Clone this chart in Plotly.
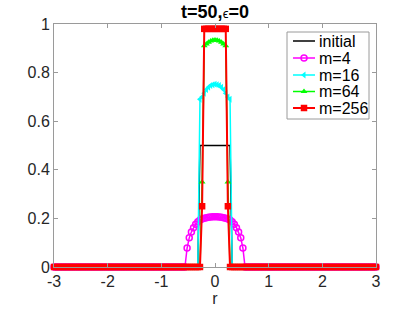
import numpy as np
import plotly.graph_objects as go

# spatial grid (151 evenly spaced samples on [-3, 3])
r = np.round(np.linspace(-3, 3, 151), 2).tolist()

pad = [0.0] * 60  # values outside the central region are all zero
# central region r = -0.60 ... 0.60 (31 samples)
initial_core = [0, 0, 0, 0, 0, 0, 0, 0, 0.5, 0.5, 0.5, 0.5, 0.5, 0.5, 0.5, 0.5,
                0.5, 0.5, 0.5, 0.5, 0.5, 0.5, 0.5, 0, 0, 0, 0, 0, 0, 0, 0]
m4_core = [0, 0, 0.078, 0.12, 0.144, 0.162, 0.176, 0.186, 0.193, 0.198, 0.201, 0.203, 0.205, 0.206, 0.207, 0.207,
           0.207, 0.206, 0.205, 0.203, 0.201, 0.198, 0.193, 0.186, 0.176, 0.162, 0.144, 0.12, 0.078, 0, 0]
m16_core = [0, 0, 0, 0, 0, 0, 0, 0, 0.69, 0.70, 0.715, 0.73, 0.74, 0.747, 0.75, 0.752,
            0.75, 0.747, 0.74, 0.73, 0.715, 0.70, 0.69, 0, 0, 0, 0, 0, 0, 0, 0]
m64_core = [0, 0, 0, 0, 0, 0, 0, 0, 0, 0.35, 0.91, 0.918, 0.925, 0.93, 0.933, 0.934,
            0.933, 0.93, 0.925, 0.918, 0.91, 0.35, 0, 0, 0, 0, 0, 0, 0, 0, 0]
m256_core = [0, 0, 0, 0, 0, 0, 0, 0, 0, 0.25, 0.98, 0.98, 0.98, 0.98, 0.98, 0.98,
             0.98, 0.98, 0.98, 0.98, 0.98, 0.25, 0, 0, 0, 0, 0, 0, 0, 0, 0]

initial = pad + initial_core + pad
m4 = pad + m4_core + pad
m16 = pad + m16_core + pad
m64 = pad + m64_core + pad
m256 = pad + m256_core + pad

names = ["initial", "m=4", "m=16", "m=64", "m=256"]
series = [initial, m4, m16, m64, m256]

x_ticks = [-3, -2, -1, 0, 1, 2, 3]
x_ticklabels = ["-3", "-2", "-1", "0", "1", "2", "3"]
y_ticks = [0, 0.2, 0.4, 0.6, 0.8, 1]
y_ticklabels = ["0", "0.2", "0.4", "0.6", "0.8", "1"]

# ---- styles ----
FONT = "Liberation Sans, Arial, Helvetica, sans-serif"
colors = ["#000000", "#ff00ff", "#00ffff", "#00ff00", "#ff0000"]
widths = [1.5, 1.5, 1.5, 1.5, 2]
markers = [None,
           dict(symbol="circle-open", size=6, line=dict(width=1.5)),
           dict(symbol="triangle-left", size=6),
           dict(symbol="triangle-up", size=6),
           dict(symbol="square", size=6.5)]

W, H = 415, 312
L, R, T, B = 54, 376, 24, 267  # plot-area pixel edges

fig = go.Figure()
for name, ys, c, w, mk in zip(names, series, colors, widths, markers):
    kw = dict(x=r, y=ys, name=name, line=dict(color=c, width=w), cliponaxis=False, showlegend=False)
    if mk is None:
        fig.add_trace(go.Scatter(mode="lines", **kw))
    else:
        fig.add_trace(go.Scatter(mode="lines+markers", marker=dict(color=c, **mk), **kw))

# ---- legend drawn on an overlay pixel-coordinate axis pair ----
LB = dict(x0=287, x1=369, y0=32, y1=119)
row_y = [41, 58, 75, 91.5, 108]
line_x0, line_x1, text_x = 293, 315, 317
fig.add_trace(go.Scatter(xaxis="x2", yaxis="y2", mode="lines",
                         x=[LB["x0"], LB["x1"], LB["x1"], LB["x0"], LB["x0"]],
                         y=[LB["y0"], LB["y0"], LB["y1"], LB["y1"], LB["y0"]],
                         fill="toself", fillcolor="white",
                         line=dict(color="#9a9a9a", width=1), showlegend=False, hoverinfo="skip"))
for name, c, w, mk, yy in zip(names, colors, widths, markers, row_y):
    fig.add_trace(go.Scatter(xaxis="x2", yaxis="y2", mode="lines", x=[line_x0, line_x1], y=[yy, yy],
                             line=dict(color=c, width=w), showlegend=False, hoverinfo="skip"))
    if mk is not None:
        fig.add_trace(go.Scatter(xaxis="x2", yaxis="y2", mode="markers", x=[(line_x0 + line_x1) / 2], y=[yy],
                                 marker=dict(color=c, **mk), showlegend=False, hoverinfo="skip"))
    fig.add_annotation(xref="x2", yref="y2", x=text_x, y=yy, text=name, showarrow=False,
                       xanchor="left", yanchor="middle", font=dict(family=FONT, size=16, color="black"))

axis_common = dict(showgrid=False, zeroline=False, showline=True, linecolor="#9a9a9a",
                   linewidth=1, mirror="allticks", ticks="inside", ticklen=4,
                   tickcolor="#9a9a9a", automargin=False,
                   tickfont=dict(family=FONT, size=16, color="#262626"))

fig.update_layout(
    width=W, height=H,
    margin=dict(l=L, r=W - R, t=T, b=H - B, autoexpand=False),
    paper_bgcolor="white", plot_bgcolor="white",
    title=dict(text="<b>t=50,</b><span style='font-size:13px'>ϵ</span><b>=0</b>",
               x=(L + R) / 2 / W, xanchor="center", y=1 - 12 / H, yanchor="middle",
               font=dict(family=FONT, size=18, color="black")),
    xaxis=dict(range=[-3, 3], tickvals=x_ticks, ticktext=x_ticklabels,
               title=dict(text="r", font=dict(family=FONT, size=16, color="#262626"), standoff=2),
               **axis_common),
    yaxis=dict(range=[0, 1], tickvals=y_ticks, ticktext=y_ticklabels, **axis_common),
    xaxis2=dict(overlaying="x", anchor="y2", range=[L, R], visible=False, fixedrange=True),
    yaxis2=dict(overlaying="y", anchor="x2", range=[B, T], visible=False, fixedrange=True),
    showlegend=False,
    hovermode=False,
)

fig.write_html("out.html", config={"displayModeBar": False, "staticPlot": True},
               post_script="document.body.style.margin='0';")
